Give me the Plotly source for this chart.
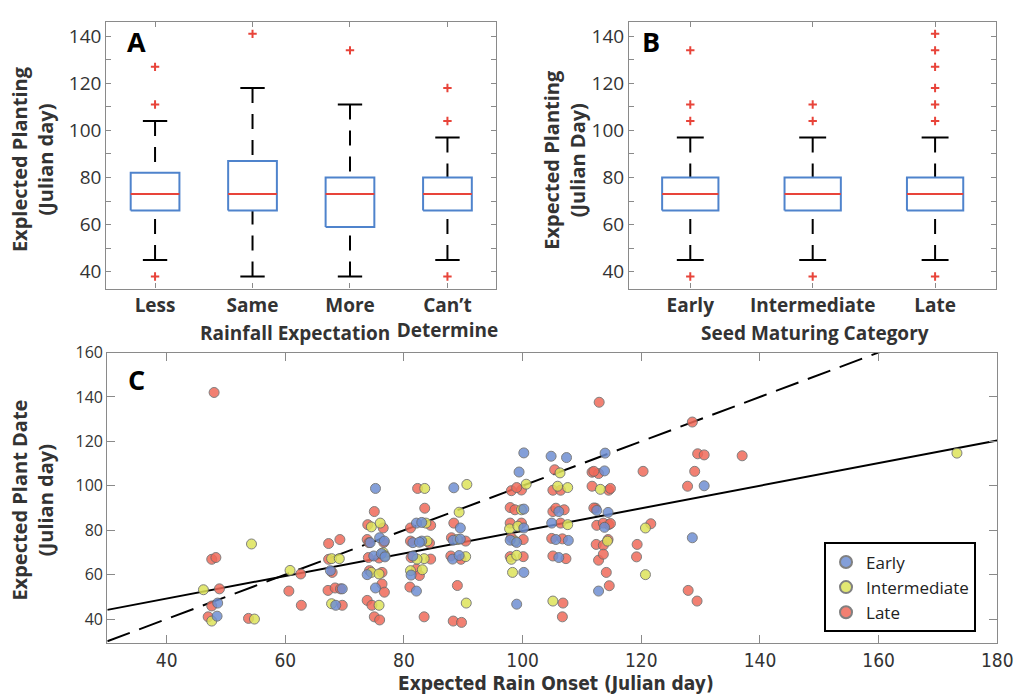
import plotly.graph_objects as go

# ---------------- data ----------------
rain_cats = ["Less", "Same", "More", "Can\u2019t<br>Determine"]
rain_q1 = [66, 66, 59, 66]
rain_med = [73, 73, 73, 73]
rain_q3 = [82, 87, 80, 80]
rain_lo = [45, 38, 38, 45]
rain_hi = [104, 118, 111, 97]
rain_out = [[127, 111, 38], [141], [134], [118, 104, 38]]

seed_cats = ["Early", "Intermediate", "Late"]
seed_q1 = [66, 66, 66]
seed_med = [73, 73, 73]
seed_q3 = [80, 80, 80]
seed_lo = [45, 45, 45]
seed_hi = [97, 97, 97]
seed_out = [[134, 111, 104, 38], [111, 104, 38], [141, 134, 127, 118, 111, 104, 38]]

early_x = [48.6, 48.5, 67.6, 69.6, 68.5, 75.2, 75.9, 76.7, 74.3, 74.9, 76.2, 76.8, 73.8, 75.2,
           82.1, 83.0, 83.0, 81.5, 82.6, 81.5, 81.2, 82.1, 88.4, 89.5, 88.3, 89.5, 88.2, 89.3,
           100.2, 99.4, 100.2, 100.2, 97.9, 99.0, 100.2, 99.0, 104.8, 107.4, 106.1, 104.9, 105.6,
           107.7, 106.1, 113.9, 113.8, 112.5, 114.4, 113.8, 112.8, 130.6, 128.6]
early_y = [47.2, 41.3, 61.8, 53.6, 46.2, 98.8, 76.6, 75.1, 74.4, 68.4, 69.5, 68.0, 60.0, 54.0,
           83.2, 83.5, 75.1, 74.4, 74.6, 68.4, 59.8, 52.6, 99.1, 81.0, 75.5, 76.0, 67.0, 68.6,
           114.8, 106.2, 89.5, 81.0, 75.5, 74.5, 61.0, 46.7, 113.3, 112.7, 88.4, 83.2, 75.8,
           75.4, 67.7, 114.7, 106.7, 88.9, 88.0, 81.3, 52.6, 100.0, 76.6]

inter_x = [46.2, 47.6, 54.3, 54.8, 60.8, 67.8, 69.1, 67.8, 74.5, 76.0, 76.5, 76.8, 74.5, 75.8, 75.8,
           83.5, 83.7, 83.9, 83.4, 82.2, 81.1, 83.1, 90.6, 89.3, 89.0, 90.4, 90.5,
           100.6, 99.8, 97.8, 99.2, 98.7, 98.1, 99.0, 98.3, 106.3, 105.9, 107.6, 107.6, 105.1,
           113.1, 114.3, 120.7, 120.7, 173.2]
inter_y = [53.2, 39.1, 73.8, 40.0, 61.9, 67.2, 67.2, 46.9, 81.5, 83.2, 69.9, 68.5, 61.0, 60.3, 46.2,
           98.8, 83.2, 75.1, 67.2, 67.0, 61.8, 62.2, 100.6, 88.1, 75.8, 68.1, 47.2,
           100.7, 89.2, 80.6, 81.8, 75.1, 66.9, 68.7, 61.0, 105.8, 99.8, 99.2, 82.5, 48.1,
           98.4, 75.1, 81.0, 60.0, 114.7]

late_x = [48.0, 47.6, 48.3, 48.9, 47.6, 47.0, 53.8, 62.6, 60.6, 62.7,
          67.3, 69.2, 67.3, 67.9, 67.2, 68.4, 69.3, 69.6,
          75.0, 73.9, 73.8, 74.1, 74.0, 74.2, 76.3, 76.3, 76.7, 73.8, 74.6, 75.0, 75.9, 76.5, 76.6, 75.8,
          82.3, 83.5, 81.1, 81.1, 81.2, 82.1, 82.6, 81.0, 83.4, 84.5, 84.3, 84.5,
          88.4, 88.0, 90.4, 87.9, 89.6, 89.0, 88.3, 89.7,
          98.1, 99.8, 99.0, 97.9, 98.7, 97.9, 99.8, 98.1, 100.1, 97.9, 100.1,
          105.4, 105.1, 106.4, 105.1, 105.6, 106.4, 107.0, 104.9, 106.7, 107.3, 105.1, 106.8, 106.7,
          112.9, 111.7, 112.8, 112.0, 111.7, 114.5, 114.8, 112.3, 112.0, 112.5, 114.5, 113.6, 114.8,
          112.4, 113.6, 114.4, 112.8, 113.6, 114.1, 114.6,
          120.3, 121.6, 119.3, 119.2,
          128.6, 129.5, 130.6, 129.0, 127.8, 127.9, 129.4,
          137.0]
late_y = [142.0, 66.9, 67.7, 53.6, 45.9, 41.0, 40.3, 60.3, 52.6, 46.2,
          74.0, 75.8, 66.9, 61.0, 52.9, 54.0, 53.6, 46.2,
          88.4, 82.5, 75.8, 74.4, 67.7, 61.8, 61.0, 55.8, 52.1, 48.4, 46.2, 41.0, 39.6, 81.0, 74.5, 67.5,
          98.8, 89.9, 81.0, 75.1, 67.7, 62.5, 59.6, 54.4, 41.0, 82.2, 74.2, 67.0,
          83.2, 76.6, 75.1, 68.4, 66.9, 55.1, 39.1, 38.5,
          97.8, 98.1, 99.2, 90.2, 89.2, 83.2, 83.2, 76.6, 75.8, 68.1, 68.1,
          107.2, 98.0, 98.0, 88.4, 89.9, 83.2, 89.2, 76.3, 76.1, 67.2, 68.4, 47.2, 41.0,
          137.6, 106.1, 105.5, 106.5, 99.8, 98.0, 98.8, 89.9, 90.0, 82.2, 82.5, 83.2, 83.0,
          73.6, 73.2, 75.8, 66.5, 69.2, 61.0, 55.0,
          106.5, 82.9, 73.6, 68.0,
          128.7, 114.4, 113.9, 106.5, 99.8, 52.9, 48.1,
          113.5]

fit_slope = 0.508
fit_intercept = 28.9
line_x = [30, 180]

# ---------------- styles ----------------
TXT = "#333333"
FRAME = "#8a8a8a"
BLUE_BOX = "#4f83cc"
MED_RED = "#e8443a"
C_EARLY = "#6f8fd3"
C_INTER = "#dde35a"
C_LATE = "#f06a5a"
FONT = "Open Sans, Noto Sans, sans-serif"
NARROW = "Liberation Sans Narrow, Arial Narrow, DejaVu Sans Condensed, sans-serif"

fig = go.Figure()


def add_boxes(xa, ya, q1, med, q3, lo, hi, outs, hw, cw):
    wx, wy, bx, by, mx, my, cx, cy, ox, oy = [], [], [], [], [], [], [], [], [], []
    for i in range(len(q1)):
        p = i + 1
        wx += [p, p, None, p, p, None]
        wy += [hi[i], q3[i], None, lo[i], q1[i], None]
        bx += [p - hw, p + hw, p + hw, p - hw, p - hw, None]
        by += [q1[i], q1[i], q3[i], q3[i], q1[i], None]
        mx += [p - hw, p + hw, None]
        my += [med[i], med[i], None]
        cx += [p - cw, p + cw, None, p - cw, p + cw, None]
        cy += [hi[i], hi[i], None, lo[i], lo[i], None]
        for o in outs[i]:
            ox.append(p)
            oy.append(o)
    common = dict(xaxis=xa, yaxis=ya, showlegend=False, hoverinfo="skip")
    fig.add_trace(go.Scatter(x=wx, y=wy, mode="lines",
                             line=dict(color="black", width=2, dash="15px,11px"), **common))
    fig.add_trace(go.Scatter(x=cx, y=cy, mode="lines", line=dict(color="black", width=2), **common))
    fig.add_trace(go.Scatter(x=bx, y=by, mode="lines", line=dict(color=BLUE_BOX, width=2), **common))
    fig.add_trace(go.Scatter(x=mx, y=my, mode="lines", line=dict(color=MED_RED, width=2), **common))
    fig.add_trace(go.Scatter(x=ox, y=oy, mode="markers",
                             marker=dict(symbol="cross-thin", size=6,
                                         line=dict(color=MED_RED, width=2)), **common))


add_boxes("x", "y", rain_q1, rain_med, rain_q3, rain_lo, rain_hi, rain_out, 0.25, 0.125)
add_boxes("x2", "y2", seed_q1, seed_med, seed_q3, seed_lo, seed_hi, seed_out, 0.23, 0.11)

# panel C lines
fig.add_trace(go.Scatter(x=line_x, y=line_x, mode="lines", xaxis="x3", yaxis="y3",
                         line=dict(color="black", width=2, dash="24px,10px"),
                         showlegend=False, hoverinfo="skip"))
fig.add_trace(go.Scatter(x=line_x, y=[fit_intercept + fit_slope * v for v in line_x],
                         mode="lines", xaxis="x3", yaxis="y3",
                         line=dict(color="black", width=2), showlegend=False, hoverinfo="skip"))

mk = dict(size=10, opacity=0.85, line=dict(color="#6a6a6a", width=1))
fig.add_trace(go.Scatter(x=late_x, y=late_y, mode="markers", name="Late", legendrank=3,
                         xaxis="x3", yaxis="y3", marker=dict(color=C_LATE, **mk)))
fig.add_trace(go.Scatter(x=inter_x, y=inter_y, mode="markers", name="Intermediate", legendrank=2,
                         xaxis="x3", yaxis="y3", marker=dict(color=C_INTER, **mk)))
fig.add_trace(go.Scatter(x=early_x, y=early_y, mode="markers", name="Early", legendrank=1,
                         xaxis="x3", yaxis="y3", marker=dict(color=C_EARLY, **mk)))

W, H = 1031, 694


def px(v):
    return v / W


def py(v):
    return 1 - v / H


frame = dict(showline=True, linecolor=FRAME, linewidth=1.2, mirror="ticks", ticks="inside",
             tickcolor=FRAME, showgrid=False, zeroline=False)

fig.update_layout(
    width=W, height=H, margin=dict(l=0, r=0, t=0, b=0),
    paper_bgcolor="white", plot_bgcolor="white",
    font=dict(family=FONT, color=TXT),
    xaxis=dict(domain=[px(108), px(504)], range=[0.5, 4.5], anchor="y",
               tickvals=[1, 2, 3, 4], ticktext=rain_cats, ticklen=5,
               tickfont=dict(size=19, weight="bold", color=TXT, family=FONT), **frame),
    yaxis=dict(domain=[py(282), py(11)], range=[32.9, 146.1], anchor="x",
               tickvals=[40, 60, 80, 100, 120, 140], ticklen=5,
               minor=dict(dtick=10, ticks="inside", ticklen=5, tickcolor=FRAME),
               tickfont=dict(size=19, color=TXT), **frame),
    xaxis2=dict(domain=[px(639), px(1012)], range=[0.5, 3.5], anchor="y2",
                tickvals=[1, 2, 3], ticktext=seed_cats, ticklen=5,
                tickfont=dict(size=19, weight="bold", color=TXT, family=FONT), **frame),
    yaxis2=dict(domain=[py(282), py(11)], range=[32.9, 146.1], anchor="x2",
                tickvals=[40, 60, 80, 100, 120, 140], ticklen=5,
                minor=dict(dtick=10, ticks="inside", ticklen=5, tickcolor=FRAME),
                tickfont=dict(size=19, color=TXT), **frame),
    xaxis3=dict(domain=[px(109), px(1013)], range=[30, 180], anchor="y3",
                tickvals=[40, 60, 80, 100, 120, 140, 160, 180], ticklen=8,
                tickfont=dict(size=19, color=TXT, family=NARROW), **frame),
    yaxis3=dict(domain=[py(642), py(347)], range=[29.3, 160], anchor="x3",
                tickvals=[40, 60, 80, 100, 120, 140, 160], ticklen=8,
                tickfont=dict(size=16, color=TXT), **frame),
    legend=dict(x=px(837), y=py(540), xanchor="left", yanchor="top",
                bordercolor="black", borderwidth=2, bgcolor="white",
                font=dict(size=17, color="#222222", family=FONT),
                itemsizing="constant", tracegroupgap=0),
)

ann = []


def label(text, x, y, size, angle=0, family=FONT, bold=True, color=TXT):
    ann.append(dict(text=text, x=px(x), y=py(y), xref="paper", yref="paper",
                    xanchor="center", yanchor="middle", showarrow=False, textangle=angle,
                    font=dict(size=size, family=family, color=color,
                              weight="bold" if bold else "normal")))


label("A", 139, 31, 27, color="black")
label("B", 661, 31, 27, color="black")
label("C", 139, 374, 27, color="black")
label("Explected Planting<br>(Julian day)", 33, 150, 20, angle=-90)
label("Expected Planting<br>(Julian Day)", 574, 151, 20, angle=-90)
label("Expected Plant Date<br>(Julian day)", 33, 497, 20, angle=-90)
label("Rainfall Expectation", 300, 327, 19)
label("Seed Maturing Category", 828, 327, 19)
label("Expected Rain Onset (Julian day)", 565, 683, 19, family=NARROW)
fig.update_layout(annotations=ann)

fig.write_html(
    "out.html",
    config={"displayModeBar": False},
    post_script=(
        "document.documentElement.style.margin='0';"
        "document.documentElement.style.overflow='hidden';"
        "document.body.style.margin='0';document.body.style.padding='0';"
        "document.body.style.overflow='hidden';"
        "var gd=document.getElementById('{plot_id}');"
        "gd.style.position='fixed';gd.style.left='0px';gd.style.top='0px';"
    ),
)
